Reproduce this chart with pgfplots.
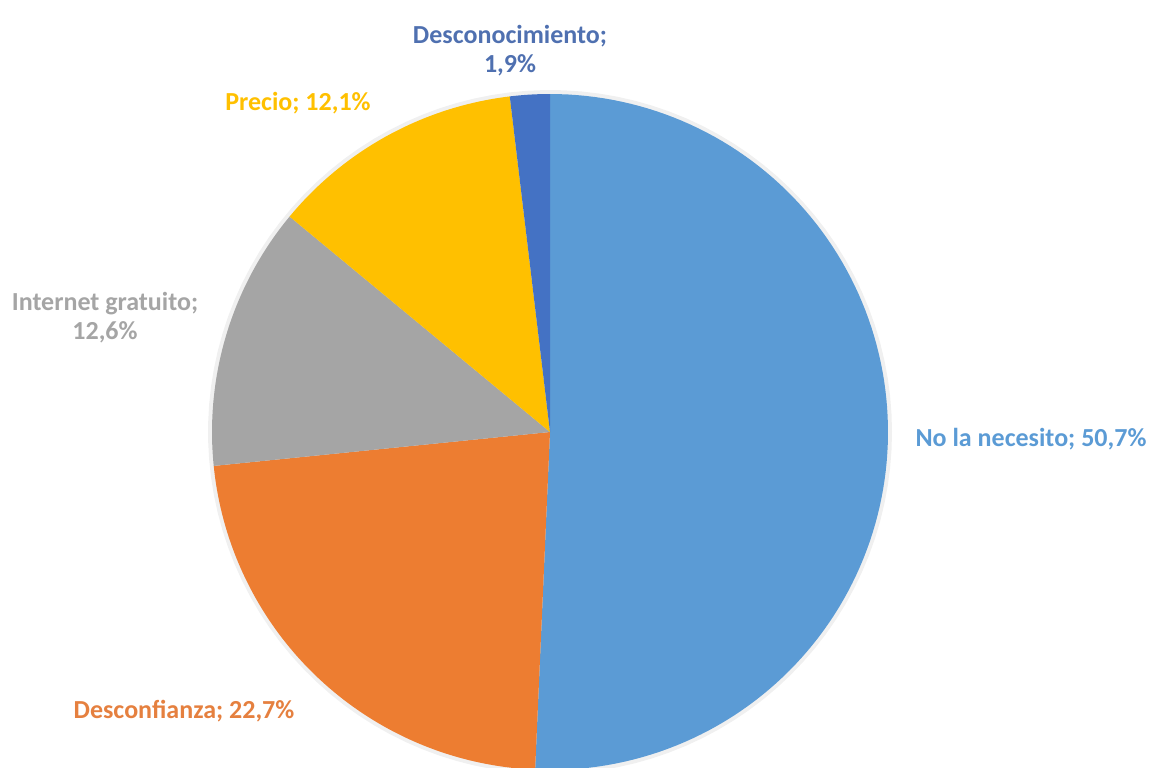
\documentclass[border=0pt]{standalone}
\usepackage{pgfplots}
\pgfplotsset{compat=1.18}
\usepackage{fontspec}
\setmainfont{Carlito}
\definecolor{cA}{HTML}{5B9BD5}
\definecolor{cB}{HTML}{ED7D31}
\definecolor{cC}{HTML}{A5A5A5}
\definecolor{cD}{HTML}{FFC000}
\definecolor{cE}{HTML}{4472C4}
\definecolor{lA}{HTML}{5B9BD5}
\definecolor{lB}{HTML}{E5803F}
\definecolor{lC}{HTML}{A5A5A5}
\definecolor{lD}{HTML}{FFC000}
\definecolor{lE}{HTML}{4F70B0}
% shares (percent)
\def\vA{50.7}\def\vB{22.7}\def\vC{12.6}\def\vD{12.1}\def\vE{1.9}
\pgfmathsetmacro{\aA}{90}
\pgfmathsetmacro{\aB}{\aA-3.6*\vA}
\pgfmathsetmacro{\aC}{\aB-3.6*\vB}
\pgfmathsetmacro{\aD}{\aC-3.6*\vC}
\pgfmathsetmacro{\aE}{\aD-3.6*\vD}
\pgfmathsetmacro{\aF}{\aE-3.6*\vE}
\tikzset{lbl/.style={font=\fontsize{13}{14.5}\selectfont\bfseries, align=center}}
\begin{document}
\begin{tikzpicture}
\begin{axis}[
  scale only axis, width=578pt, height=383.5pt,
  xmin=0, xmax=1156, ymin=0, ymax=767,
  hide axis, clip=true,
]
\path (rel axis cs:0,0) rectangle (rel axis cs:1,1);
\def\cx{550}\def\cy{335}\def\r{338}
\addplot[draw=none, fill=black, fill opacity=0.06, domain=0:360, samples=120]
  ({\cx+(\r+4)*cos(x)},{\cy+(\r+4)*sin(x)}) -- cycle;
\addplot[draw=none, fill=cA, domain=\aB:\aA, samples=120]
  ({\cx+\r*cos(x)},{\cy+\r*sin(x)}) -- (axis cs:\cx,\cy) -- cycle;
\addplot[draw=none, fill=cB, domain=\aC:\aB, samples=80]
  ({\cx+\r*cos(x)},{\cy+\r*sin(x)}) -- (axis cs:\cx,\cy) -- cycle;
\addplot[draw=none, fill=cC, domain=\aD:\aC, samples=60]
  ({\cx+\r*cos(x)},{\cy+\r*sin(x)}) -- (axis cs:\cx,\cy) -- cycle;
\addplot[draw=none, fill=cD, domain=\aE:\aD, samples=60]
  ({\cx+\r*cos(x)},{\cy+\r*sin(x)}) -- (axis cs:\cx,\cy) -- cycle;
\addplot[draw=none, fill=cE, domain=\aF:\aE, samples=20]
  ({\cx+\r*cos(x)},{\cy+\r*sin(x)}) -- (axis cs:\cx,\cy) -- cycle;
\node[lbl, text=lE] at (axis cs:510,716) {Desconocimiento;\\1,9\%};
\node[lbl, text=lD] at (axis cs:298,664) {Precio; 12,1\%};
\node[lbl, text=lC] at (axis cs:105,449) {Internet gratuito;\\12,6\%};
\node[lbl, text=lA] at (axis cs:1031,328) {No la necesito; 50,7\%};
\node[lbl, text=lB] at (axis cs:184,56) {Desconfianza; 22,7\%};
\end{axis}
\end{tikzpicture}
\end{document}
